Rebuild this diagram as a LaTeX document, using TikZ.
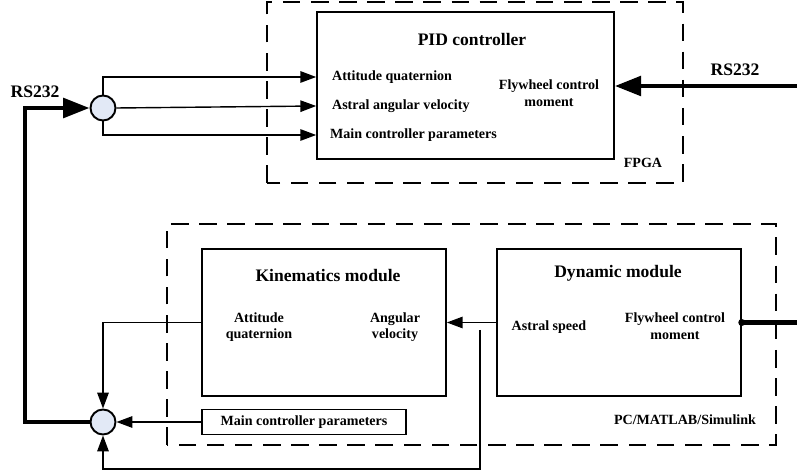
\documentclass[tikz,border=0pt]{standalone}
\usepackage{fontspec}
\setmainfont{Liberation Serif}
\usetikzlibrary{arrows.meta}
\definecolor{sumfill}{RGB}{226,233,246}

\begin{document}
\begin{tikzpicture}[
	lbl/.style={font=\bfseries\fontsize{8}{9.5}\selectfont, align=center, inner sep=1pt},
	title/.style={font=\bfseries\fontsize{10}{12}\selectfont, inner sep=1pt},
	modbox/.style={draw, line width=0.9pt, inner sep=0pt},
	sumnode/.style={circle, draw, line width=1.1pt, fill=sumfill, minimum size=0.5cm, inner sep=0pt},
	sig/.style={line width=0.8pt, -{Triangle[length=9pt,width=6.5pt]}},
	bus/.style={line width=2.6pt},
	bigtip/.style={-{Triangle[length=15pt,width=11pt]}},
	frame/.style={line width=0.8pt, dash pattern=on 10pt off 6pt}
	]
			\useasboundingbox (0,0) rectangle (15.94,9.5);

			% dashed frames
			\draw [frame] (5.34,5.84) rectangle (13.66,9.46);
			\draw [frame] (3.34,0.6) rectangle (15.52,5.02);
			\node [lbl] (fpga) at (12.86,6.24) {FPGA};
			\node [lbl] (pcsim) at (13.7,1.1) {PC/MATLAB/Simulink};

			% FPGA part
			\node [modbox, minimum width=5.94cm, minimum height=2.94cm] (pid) at (9.31,7.79) {};
			\node [title] (pidt) at (9.44,8.72) {PID controller};
			\node [lbl, anchor=west] (qin) at (6.6,7.96) {Attitude quaternion};
			\node [lbl, anchor=west] (avin) at (6.6,7.38) {Astral angular velocity};
			\node [lbl, anchor=west] (mpin) at (6.56,6.8) {Main controller parameters};
			\node [lbl] (fwin) at (10.98,7.64) {Flywheel control\\moment};

			% simulation part
			\node [modbox, minimum width=4.88cm, minimum height=2.94cm] (kin) at (6.48,3.05) {};
			\node [title] (kint) at (6.56,3.98) {Kinematics module};
			\node [lbl] (kq) at (5.18,2.96) {Attitude\\quaternion};
			\node [lbl] (kav) at (7.9,2.96) {Angular\\velocity};

			\node [modbox, minimum width=4.88cm, minimum height=2.94cm] (dyn) at (12.38,3.05) {};
			\node [title] (dynt) at (12.36,4.04) {Dynamic module};
			\node [lbl] (dspd) at (10.98,2.96) {Astral speed};
			\node [lbl] (dfw) at (13.5,2.98) {Flywheel control\\moment};

			\node [modbox, lbl, minimum width=4.08cm, minimum height=0.5cm] (mcp) at (6.08,1.06) {Main controller parameters};

			% summing points
			\node [sumnode] (sumA) at (2.06,7.34) {};
			\node [sumnode] (sumB) at (2.06,1.06) {};
			\node [title] (rsl) at (0.7,7.66) {RS232};
			\node [title] (rsr) at (14.7,8.1) {RS232};

			\coordinate (busL) at (0.5,7.34);
			\coordinate (rsin) at (15.94,7.78);
			\coordinate (tqout) at (15.94,3.05);
			\coordinate (fbtap) at (9.6,2.9);
			\coordinate (fbbot) at (9.6,0.12);

			% serial links
			\draw [bus, bigtip] (sumB.west) -| (busL) -- (sumA.west);
			\draw [bus, bigtip] (rsin) -- (pid.east |- rsin);
			\draw [bus] (dyn.east) -- (tqout);
			\fill (dyn.east) circle (2pt);

			% signals into the PID controller
			\draw [sig] (sumA.north) |- (pid.west |- qin);
			\draw [sig] (sumA.east) -- (pid.west |- avin);
			\draw [sig] (sumA.south) |- (pid.west |- mpin);

			% feedback from the simulation
			\draw [sig] (dyn.west) -- (kin.east);
			\draw [sig] (kin.west) -| (sumB.north);
			\draw [sig] (mcp.west) -- (sumB.east);
			\draw [sig] (fbtap) -- (fbbot) -| (sumB.south);
		\end{tikzpicture}
\end{document}
